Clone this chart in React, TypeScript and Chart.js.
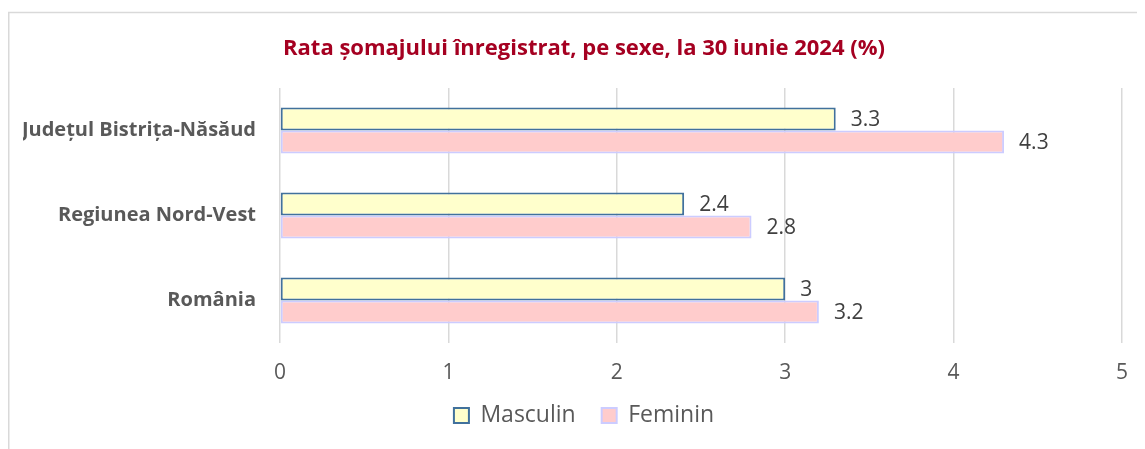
import React, { useEffect, useRef } from "react";
import { Chart, registerables } from "chart.js";

Chart.register(...registerables);

const categories = ["Județul Bistrița-Năsăud", "Regiunea Nord-Vest", "România"];
const masculin = [3.3, 2.4, 3];
const feminin = [4.3, 2.8, 3.2];
const seriesNames = ["Masculin", "Feminin"];
const titleText = "Rata șomajului înregistrat, pe sexe, la 30 iunie 2024 (%)";

const FONT = "'Open Sans', 'Noto Sans', sans-serif";

const frameBorder = {
  id: "frameBorder",
  beforeDraw(chart: any) {
    const ctx = chart.ctx;
    ctx.save();
    ctx.strokeStyle = "#d9d9d9";
    ctx.lineWidth = 1.5;
    ctx.beginPath();
    ctx.moveTo(0.75, chart.height);
    ctx.lineTo(0.75, 4.5);
    ctx.lineTo(chart.width, 4.5);
    ctx.stroke();
    ctx.restore();
  },
};

const legendShift = {
  id: "legendShift",
  afterLayout(chart: any) {
    const l = chart.legend;
    if (l) {
      l.top -= 8;
      l.bottom -= 8;
    }
  },
};

const valueLabels = {
  id: "valueLabels",
  afterDatasetsDraw(chart: any) {
    const ctx = chart.ctx;
    ctx.save();
    ctx.font = `21px ${FONT}`;
    ctx.fillStyle = "#404040";
    ctx.textAlign = "left";
    ctx.textBaseline = "middle";
    chart.data.datasets.forEach((ds: any, di: number) => {
      const meta = chart.getDatasetMeta(di);
      meta.data.forEach((el: any, i: number) => {
        ctx.fillText(String(ds.data[i]), el.x + 15, el.y + 1);
      });
    });
    ctx.restore();
  },
};

export default function App() {
  const ref = useRef<HTMLCanvasElement | null>(null);
  useEffect(() => {
    if (!ref.current) return;
    const chart = new Chart(ref.current, {
      type: "bar",
      data: {
        labels: categories,
        datasets: [
          {
            label: seriesNames[0],
            data: masculin,
            backgroundColor: "#FFFFCC",
            borderColor: "#41719C",
            borderWidth: 2,
            borderSkipped: false,
          },
          {
            label: seriesNames[1],
            data: feminin,
            backgroundColor: "#FFCCCC",
            borderColor: "#CCCCFF",
            borderWidth: 2,
            borderSkipped: false,
          },
        ],
      },
      options: {
        indexAxis: "y",
        animation: false,
        responsive: false,
        maintainAspectRatio: false,
        layout: { padding: { left: 15, right: 0, top: 0, bottom: 4 } },
        datasets: {
          bar: { categoryPercentage: 0.54, barPercentage: 1 },
        },
        scales: {
          x: {
            min: 0,
            max: 5,
            ticks: {
              stepSize: 1,
              color: "#595959",
              font: { family: FONT, size: 21 },
              padding: 17,
            },
            grid: { color: "#d9d9d9", lineWidth: 1.5, drawTicks: false },
            border: { display: false },
            afterFit(scale: any) {
              scale.height = 43;
            },
          },
          y: {
            ticks: {
              color: "#595959",
              font: { family: FONT, size: 20, weight: "bold" },
              padding: 24,
            },
            grid: { display: false, drawTicks: false },
            border: { display: false },
            afterFit(scale: any) {
              scale.width = 257;
            },
          },
        },
        plugins: {
          title: {
            display: true,
            text: titleText,
            color: "#A50021",
            font: { family: FONT, size: 22, weight: "bold" },
            padding: { top: 27.5, bottom: 26.1 },
          },
          legend: {
            position: "bottom",
            labels: {
              color: "#595959",
              font: { family: FONT, size: 23 },
              boxWidth: 15,
              boxHeight: 15,
              padding: 26,
            },
          },
          tooltip: { enabled: false },
        },
      },
      plugins: [frameBorder, valueLabels, legendShift],
    });
    return () => chart.destroy();
  }, []);
  return (
    <div style={{ width: 1137, height: 441 }}>
      <canvas ref={ref} width={1137} height={441} style={{ display: "block" }} />
    </div>
  );
}
